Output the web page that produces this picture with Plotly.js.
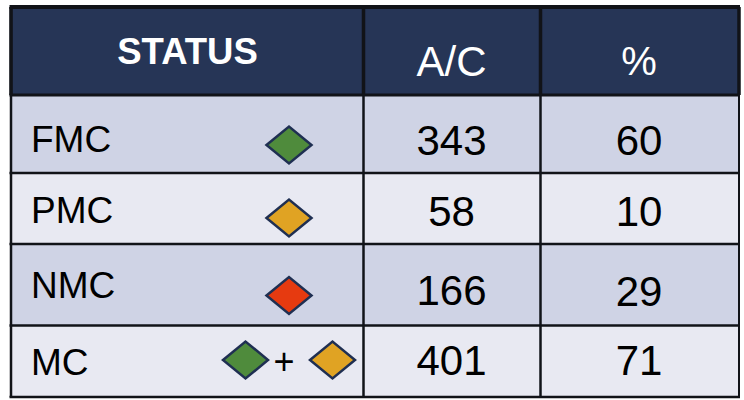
<!DOCTYPE html>
<html><head><meta charset="utf-8">
<script src="https://cdn.plot.ly/plotly-3.0.1.min.js"></script>
<style>html,body{margin:0;padding:0;background:#fff}#c{width:744px;height:400px}</style>
</head><body><div id="c"></div>
<script>
// Table content
var headers = ["STATUS", "A/C", "%"];
var statuses = ["FMC", "PMC", "NMC", "MC"];
var aircraft = ["343", "58", "166", "401"];
var percents = ["60", "10", "29", "71"];
var diamondColors = ["#4F8B3C", "#E0A323", "#E63A10", "#4F8B3C", "#E0A323"];

// Layout of the table (page pixels)
var colEdges = [11, 363.5, 540.5, 739];
var rowEdges = [7, 95, 173, 244, 325.5, 397];
var rowFills = ["#263556", "#CFD3E5", "#E8E9F2", "#CFD3E5", "#E8E9F2"];
var headerY = [55, 65, 65];
var headerX = [187.5, 451.5, 639];
var statusX = 31;
var statusY = [143, 214, 289, 366];
var acY = [144, 215, 294, 364];
var pctY = [144, 215, 295, 364];
var diamondX = [289, 289, 289, 245.5, 332.5];
var diamondY = [145, 218, 295.5, 360, 360];

var shapes = [];
rowFills.forEach(function (f, i) {
  shapes.push({type: "rect", layer: "below", x0: colEdges[0], x1: colEdges[3], y0: rowEdges[i], y1: rowEdges[i + 1], fillcolor: f, line: {width: 0}});
});
rowEdges.forEach(function (y, i) {
  var w = i === 0 ? 4 : (i === 1 ? 3 : 2.5);
  shapes.push({type: "line", layer: "below", x0: colEdges[0] - 1.5, x1: colEdges[3] + 1, y0: y, y1: y, line: {color: "#111318", width: w}});
});
colEdges.forEach(function (x, i) {
  shapes.push({type: "line", layer: "below", x0: x, x1: x, y0: rowEdges[0], y1: rowEdges[5], line: {color: "#111318", width: (i === 3 ? 2 : 2.5)}});
});
// thicker divider lines through the header
colEdges.forEach(function (x) {
  shapes.push({type: "line", layer: "below", x0: x, x1: x, y0: rowEdges[0], y1: rowEdges[1], line: {color: "#111318", width: 3.5}});
});
diamondColors.forEach(function (c, i) {
  var x = diamondX[i], y = diamondY[i], a = 22.5, b = 18.5;
  shapes.push({type: "path", path: "M" + (x - a) + "," + y + "L" + x + "," + (y - b) + "L" + (x + a) + "," + y + "L" + x + "," + (y + b) + "Z",
    fillcolor: c, line: {color: "#1F2F52", width: 2.5}});
});

function textTrace(x, y, text, size, color, pos, weight) {
  return {type: "scatter", mode: "text", x: x, y: y, text: text, textposition: pos || "middle center",
    textfont: {family: "Liberation Sans, Arial, sans-serif", size: size, color: color, weight: weight || 400},
    hoverinfo: "skip", showlegend: false, cliponaxis: false};
}
var traces = [
  textTrace([headerX[0]], [headerY[0]], [headers[0]], 36.5, "#FFFFFF", "middle center", 700),
  textTrace([headerX[1]], [headerY[1]], [headers[1]], 42, "#FFFFFF"),
  textTrace([headerX[2]], [headerY[2]], [headers[2]], 40, "#FFFFFF"),
  textTrace(statuses.map(function () { return statusX; }), statusY, statuses, 37, "#000000", "middle right"),
  textTrace(aircraft.map(function () { return headerX[1]; }), acY, aircraft, 42, "#000000"),
  textTrace(percents.map(function () { return headerX[2]; }), pctY, percents, 42, "#000000"),
  textTrace([284], [365], ["+"], 36, "#000000")
];

Plotly.newPlot("c", traces, {
  width: 744, height: 400,
  margin: {l: 0, r: 0, t: 0, b: 0},
  paper_bgcolor: "#FFFFFF", plot_bgcolor: "#FFFFFF",
  xaxis: {range: [0, 744], visible: false, fixedrange: true},
  yaxis: {range: [400, 0], visible: false, fixedrange: true},
  shapes: shapes, showlegend: false
}, {displayModeBar: false, staticPlot: true});
</script></body></html>
